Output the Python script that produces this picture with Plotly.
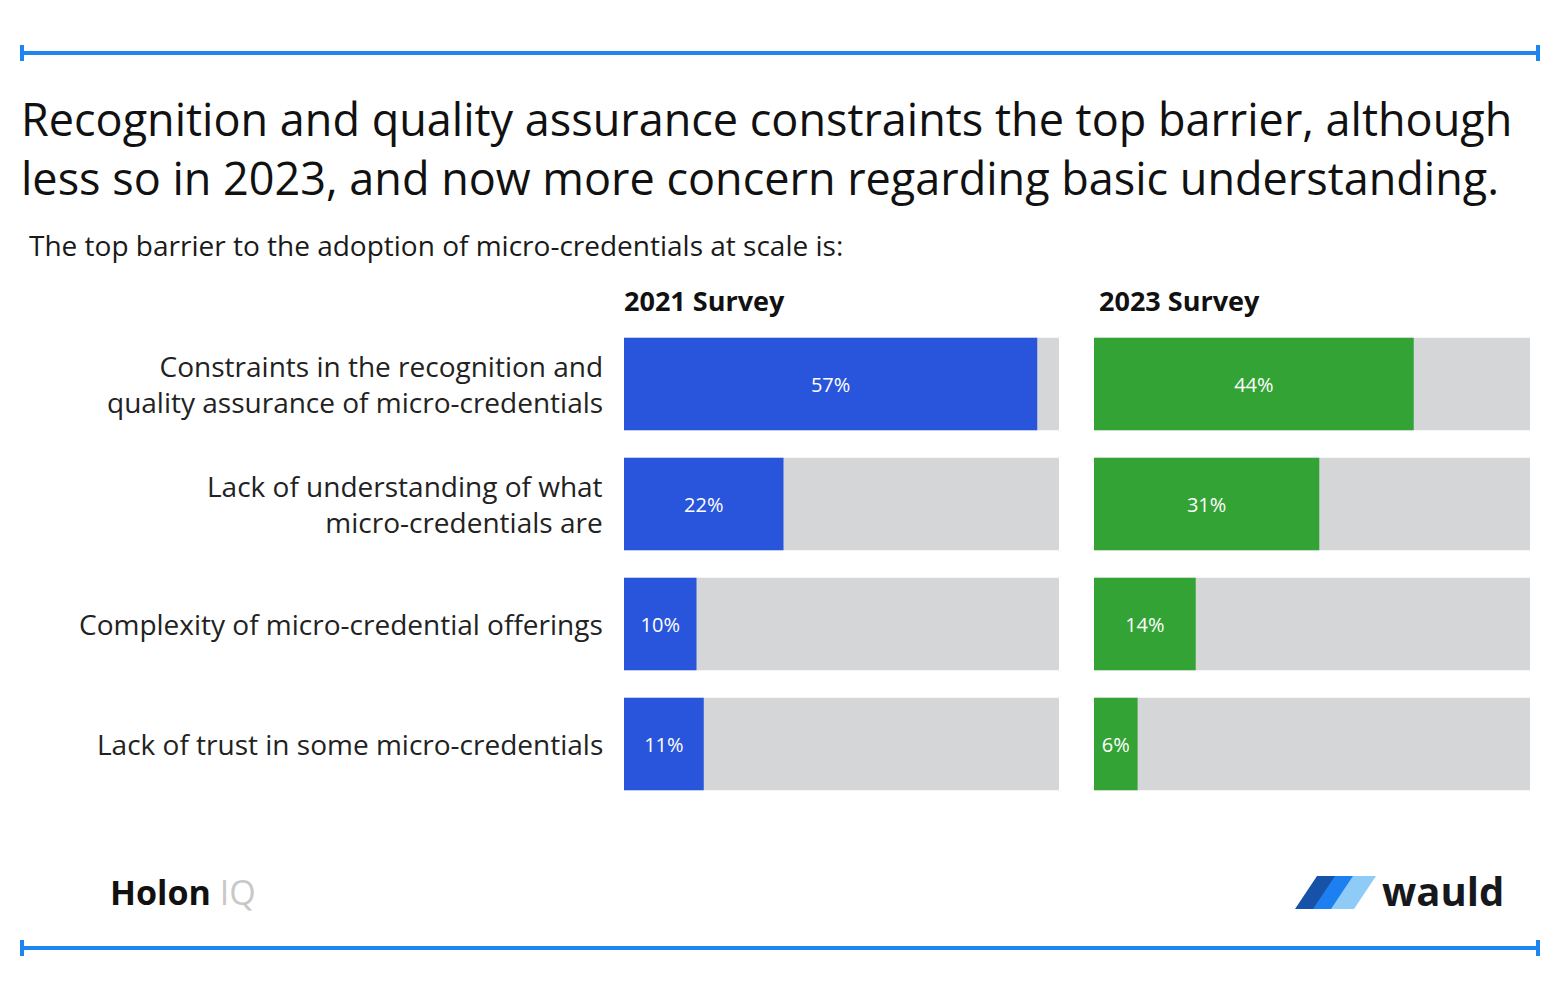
"""Top barriers to micro-credential adoption, 2021 vs 2023 survey."""

import plotly.graph_objects as go

W, H = 1564, 1003
OFFSET = 8  # page body margin

categories = [
    "Constraints in the recognition and<br>quality assurance of micro-credentials",
    "Lack of understanding of what<br>micro-credentials are",
    "Complexity of micro-credential offerings",
    "Lack of trust in some micro-credentials",
]
survey_2021 = [57, 22, 10, 11]
survey_2023 = [44, 31, 14, 6]
panel_titles = ["2021 Survey", "2023 Survey"]
AXIS_MAX = 60

FONT = "Open Sans"
BLUE = "#2955dc"
GREEN = "#33a336"
GRAY = "#d5d6d8"
LINE = "#1e85f0"


def px(x):
    return (x - OFFSET) / W


def py(y):
    return 1 - (y - OFFSET) / H


fig = go.Figure()

panels = [
    (survey_2021, BLUE, "x", "y"),
    (survey_2023, GREEN, "x2", "y2"),
]
for values, color, xa, ya in panels:
    fig.add_trace(
        go.Bar(
            x=[AXIS_MAX] * len(categories), y=categories, orientation="h",
            marker={"color": GRAY, "line": {"width": 0}}, width=0.77,
            hoverinfo="skip", showlegend=False, xaxis=xa, yaxis=ya,
        ),
    )
    fig.add_trace(
        go.Bar(
            x=values, y=categories, orientation="h",
            marker={"color": color, "line": {"width": 0}}, width=0.77,
            texttemplate="%{x}%", textposition="inside", insidetextanchor="middle",
            textfont={"color": "white", "size": 20, "family": FONT},
            showlegend=False, xaxis=xa, yaxis=ya,
        ),
    )

y_dom = [py(804), py(324)]
axis_common = {"range": [0, AXIS_MAX], "visible": False, "fixedrange": True}
fig.update_layout(
    width=W, height=H,
    margin={"l": 0, "r": 0, "t": 0, "b": 0},
    paper_bgcolor="white", plot_bgcolor="white",
    barmode="overlay",
    font={"family": FONT, "color": "#1a1a1a"},
    xaxis={**axis_common, "domain": [px(624), px(1059)]},
    xaxis2={**axis_common, "domain": [px(1094), px(1530)]},
    yaxis={"domain": y_dom, "autorange": "reversed", "visible": False, "anchor": "x"},
    yaxis2={"domain": y_dom, "autorange": "reversed", "visible": False, "anchor": "x2"},
    uniformtext={"minsize": 16, "mode": "show"},
)

# Category labels
for cat in categories:
    fig.add_annotation(
        text=cat, xref="paper", yref="y", x=px(605), y=cat,
        xanchor="right", yanchor="middle", align="right", showarrow=False,
        font={"size": 28, "color": "#222222", "family": FONT},
    )

# Panel headings
for title, x0 in zip(panel_titles, [622, 1097]):
    fig.add_annotation(
        text=f"<b>{title}</b>", xref="paper", yref="paper", x=px(x0), y=py(300),
        xanchor="left", yanchor="middle", showarrow=False,
        font={"size": 27, "color": "#111111", "family": FONT},
    )

# Title and subtitle
fig.add_annotation(
    text="Recognition and quality assurance constraints the top barrier, although<br>"
    "less so in 2023, and now more concern regarding basic understanding.",
    xref="paper", yref="paper", x=px(19), y=py(148), xanchor="left", yanchor="middle",
    align="left", showarrow=False, font={"size": 45, "color": "#111111", "family": FONT},
)
fig.add_annotation(
    text="The top barrier to the adoption of micro-credentials at scale is:",
    xref="paper", yref="paper", x=px(27), y=py(245), xanchor="left", yanchor="middle",
    showarrow=False, font={"size": 28, "color": "#1a1a1a", "family": FONT},
)

# Logos
fig.add_annotation(
    text="<b>Holon</b> <span style='color:#c8c8c8'>IQ</span>",
    xref="paper", yref="paper", x=px(108), y=py(892), xanchor="left", yanchor="middle",
    showarrow=False, font={"size": 34, "color": "#111111", "family": FONT},
)
fig.add_annotation(
    text="<b>wauld</b>",
    xref="paper", yref="paper", x=px(1380), y=py(890), xanchor="left", yanchor="middle",
    showarrow=False, font={"size": 40, "color": "#16181c", "family": FONT},
)
for i, c in enumerate(["#1552a8", "#1e80f0", "#8fcbf7"]):
    o = 18 * i
    path = (
        f"M {px(1295 + o)} {py(909)} L {px(1317 + o)} {py(876)} "
        f"L {px(1340 + o)} {py(876)} L {px(1318 + o)} {py(909)} Z"
    )
    fig.add_shape(type="path", path=path, xref="paper", yref="paper",
                  fillcolor=c, line={"width": 0})

# Rules with end caps
for yl in [53, 948]:
    fig.add_shape(type="line", xref="paper", yref="paper",
                  x0=px(22), x1=px(1538), y0=py(yl), y1=py(yl),
                  line={"color": LINE, "width": 4})
    for xc in [22, 1538]:
        fig.add_shape(type="line", xref="paper", yref="paper",
                      x0=px(xc), x1=px(xc), y0=py(yl - 8), y1=py(yl + 8),
                      line={"color": LINE, "width": 4})

fig.write_html("out.html")
